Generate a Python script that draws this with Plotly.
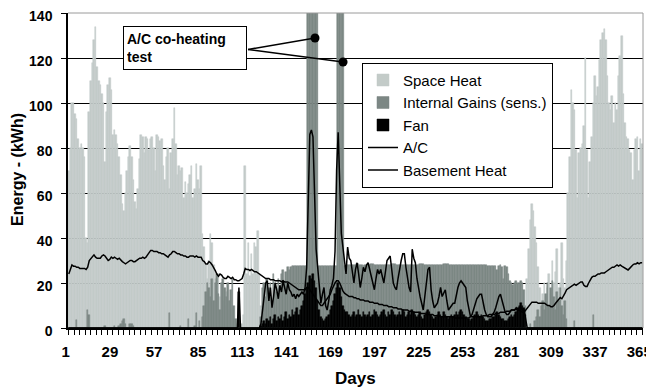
import plotly.graph_objects as go

DAYS = list(range(1, 366))
X_TICKS = [1, 29, 57, 85, 113, 141, 169, 197, 225, 253, 281, 309, 337, 365]
Y_TICKS = [0, 20, 40, 60, 80, 100, 120, 140]

SPACE_HEAT = [
    70, 80, 100, 100, 95, 93, 84, 80, 82, 80,        # 1-10
    76, 40, 38, 96, 110, 118, 128, 134, 116, 110,    # 11-20
    108, 104, 100, 74, 96, 108, 111, 106, 86, 88,    # 21-30
    86, 82, 76, 68, 55, 52, 60, 70, 76, 81,          # 31-40
    76, 66, 56, 53, 62, 75, 86, 85, 78, 85,          # 41-50
    84, 79, 84, 85, 80, 70, 86, 85, 83, 84,          # 51-60
    72, 66, 76, 80, 62, 78, 84, 98, 82, 68,          # 61-70
    72, 70, 71, 58, 65, 60, 64, 68, 72, 58,          # 71-80
    62, 73, 66, 62, 72, 42, 36, 28, 22, 30,          # 81-90
    42, 38, 28, 22, 16, 24, 14, 20, 12, 10,          # 91-100
    16, 8, 12, 6, 9, 4, 2, 0, 0, 0,                  # 101-110
    2, 6, 72, 24, 38, 23, 33, 24, 38, 36,            # 111-120
    43, 24, 10, 0, 0, 0, 0, 0, 0, 0,                 # 121-130
    0, 0, 0, 0, 0, 0, 0, 0, 0, 0,                    # 131-140
    0, 0, 0, 0, 0, 0, 0, 0, 0, 0,                    # 141-150
    0, 0, 0, 0, 0, 0, 0, 0, 0, 0,                    # 151-160
    0, 0, 0, 0, 0, 0, 0, 0, 0, 0,                    # 161-170
    0, 0, 0, 0, 0, 0, 0, 0, 0, 0,                    # 171-180
    0, 0, 0, 0, 0, 0, 0, 0, 0, 0,                    # 181-190
    0, 0, 0, 0, 0, 0, 0, 0, 0, 0,                    # 191-200
    0, 0, 0, 0, 0, 0, 0, 0, 0, 0,                    # 201-210
    0, 0, 0, 0, 0, 0, 0, 0, 0, 0,                    # 211-220
    0, 0, 0, 0, 0, 0, 0, 0, 0, 0,                    # 221-230
    0, 0, 0, 0, 0, 0, 0, 0, 0, 0,                    # 231-240
    0, 0, 0, 0, 0, 0, 0, 0, 0, 0,                    # 241-250
    0, 0, 0, 0, 0, 0, 0, 0, 0, 0,                    # 251-260
    0, 0, 0, 0, 0, 0, 0, 0, 0, 0,                    # 261-270
    0, 0, 0, 0, 0, 0, 0, 0, 0, 0,                    # 271-280
    0, 0, 0, 0, 0, 0, 0, 0, 0, 0,                    # 281-290
    0, 22, 35, 48, 55, 52, 45, 38, 27, 18,           # 291-300
    12, 15, 20, 14, 18, 24, 15, 30, 20, 25,          # 301-310
    35, 18, 20, 38, 22, 18, 30, 60, 76, 106,         # 311-320
    100, 97, 79, 58, 78, 80, 82, 90, 120, 79,        # 321-330
    58, 74, 85, 100, 112, 103, 107, 119, 128, 131,   # 331-340
    133, 128, 112, 100, 97, 103, 91, 100, 97, 112,   # 341-350
    121, 130, 104, 91, 85, 84, 79, 78, 66, 79,       # 351-360
    84, 85, 70, 84, 82,                              # 361-365
]

INTERNAL_GAINS = [
    0, 0, 0, 0, 0, 3.5, 0, 0, 0, 0,                  # 1-10
    0, 0, 8, 6, 0, 0, 0, 0, 0, 0,                    # 11-20
    0, 0, 0, 1, 0, 0, 0, 0, 0, 1,                    # 21-30
    0, 0, 1, 2, 3, 4, 2, 0, 0, 2,                    # 31-40
    2, 1, 0, 0, 0, 0, 0, 0, 0, 0,                    # 41-50
    0, 0, 0, 0, 0, 0, 0, 0, 0, 0,                    # 51-60
    0, 0, 0, 0, 6.5, 0, 0, 0, 0, 0,                  # 61-70
    0, 1, 0, 0, 0, 0, 4, 0, 0, 0,                    # 71-80
    1, 6.5, 0, 3, 0, 5, 10, 16, 20, 18,              # 81-90
    14, 22, 12, 20, 24, 15, 8, 20, 22, 18,           # 91-100
    14, 20, 12, 17, 22, 10, 4, 0, 0, 2,              # 101-110
    0, 0, 0, 0, 0, 0, 0, 0, 0, 0,                    # 111-120
    0, 0, 5, 18, 20, 14, 22, 18, 20, 12,             # 121-130
    24, 20, 16, 22, 18, 24, 26, 20, 25, 27,          # 131-140
    26, 27, 27.5, 27.5, 27.5, 27.5, 27.5, 27.5, 27.5, 27.5,   # 141-150
    27.5, 27.5, 160, 160, 160, 160, 160, 160, 160, 27.5,     # 151-160
    27.5, 27.5, 27.5, 27.5, 27.5, 27.5, 27.5, 27.5, 27.5, 27.5,  # 161-170
    27.5, 160, 160, 160, 160, 27.5, 27.5, 28, 28, 28,        # 171-180
    28, 28, 28, 28.5, 28.5, 28, 28, 27.5, 28, 28,    # 181-190
    28, 28, 28.5, 28.5, 28, 28, 28, 28, 28, 28,      # 191-200
    28, 28, 28, 28, 28, 28.5, 28.5, 28.5, 28, 28,    # 201-210
    28, 28, 28, 28, 28, 28, 28, 28, 28, 28,          # 211-220
    28, 28, 28, 28.5, 28.5, 28.5, 28, 28, 28, 28,    # 221-230
    28, 28, 28, 28, 28, 28, 28, 28, 28.5, 28.5,      # 231-240
    28.5, 28.5, 28, 28, 28, 28, 28, 28, 28, 28,      # 241-250
    28, 28, 28, 28, 28, 28, 28, 28, 28, 28,          # 251-260
    28, 28, 28, 28, 28, 28, 27.5, 27.5, 27.5, 27.5,  # 261-270
    27.5, 27.5, 26, 27.5, 28, 27, 22, 27.5, 27, 24,  # 271-280
    21, 20, 19, 20, 21, 20, 20, 21, 20, 17,          # 281-290
    10, 0, 0, 2, 0, 0, 3, 5, 8, 5,                   # 291-300
    10, 12, 8, 15, 20, 10, 18, 21, 14, 8,            # 301-310
    16, 12, 18, 10, 6, 12, 4, 0, 0, 0,               # 311-320
    0, 3, 0, 0, 0, 0, 0, 0, 0, 0,                    # 321-330
    0, 0, 0, 6, 0, 0, 0, 0, 0, 0,                    # 331-340
    0, 0, 0, 0, 0, 0, 0, 0, 0, 0,                    # 341-350
    0, 0, 0, 0, 0, 0, 0, 0, 0, 0,                    # 351-360
    0, 0, 0, 0, 0,                                   # 361-365
]

FAN = [
    0, 0, 0, 0, 0, 0, 0, 0, 0, 0,                    # 1-10
    0, 0, 0, 0, 0, 0, 0, 0, 0, 0,                    # 11-20
    0, 0, 0, 0, 0, 0, 0, 0, 0, 0,                    # 21-30
    0, 0, 0, 0, 0, 0, 0, 0, 0, 0,                    # 31-40
    0, 0, 0, 0, 0, 0, 0, 0, 0, 0,                    # 41-50
    0, 0, 0, 0, 0, 0, 0, 0, 0, 0,                    # 51-60
    0, 0, 0, 0, 0, 0, 0, 0, 0, 0,                    # 61-70
    0, 0, 0, 0, 0, 0, 0, 0, 0, 0,                    # 71-80
    0, 0, 0, 0, 0, 0, 0, 0, 0, 0,                    # 81-90
    0, 0, 0, 0, 0, 0, 0, 0, 0, 0,                    # 91-100
    0, 0, 0, 0, 0, 0, 0, 0, 16, 0,                   # 101-110
    0, 0, 0, 0, 0, 0, 0, 0, 0, 0,                    # 111-120
    0, 0, 1, 2, 3, 2, 4, 3, 5, 2,                    # 121-130
    4, 6, 3, 5, 4, 6, 3, 5, 7, 4,                    # 131-140
    6, 5, 8, 6, 7, 9, 6, 8, 10, 12,                  # 141-150
    15, 18, 20, 23, 22, 24, 21, 18, 12, 8,           # 151-160
    5, 4, 3, 4, 5, 6, 8, 10, 12, 15,                 # 161-170
    18, 20, 18, 14, 10, 8, 7, 7, 6, 5,               # 171-180
    6, 7, 5, 6, 8, 6, 5, 7, 6, 5,                    # 181-190
    6, 7, 5, 6, 8, 7, 6, 5, 6, 7,                    # 191-200
    8, 6, 5, 7, 6, 8, 7, 6, 5, 6,                    # 201-210
    7, 6, 8, 7, 5, 6, 7, 6, 8, 7,                    # 211-220
    6, 5, 6, 7, 5, 4, 6, 7, 8, 7,                    # 221-230
    6, 5, 4, 5, 6, 7, 6, 5, 7, 6,                    # 231-240
    5, 4, 5, 6, 5, 6, 7, 6, 7, 8,                    # 241-250
    7, 6, 5, 4, 4, 3, 4, 5, 6, 7,                    # 251-260
    6, 5, 6, 5, 4, 3, 3, 4, 4, 5,                    # 261-270
    5, 6, 7, 6, 5, 4, 4, 3, 3, 4,                    # 271-280
    5, 6, 5, 6, 7, 9, 10, 11, 10, 9,                 # 281-290
    6, 0, 0, 0, 0, 0, 0, 0, 0, 0,                    # 291-300
    0, 0, 0, 0, 0, 0, 0, 0, 0, 0,                    # 301-310
    0, 0, 0, 0, 0, 0, 0, 0, 0, 0,                    # 311-320
    0, 0, 0, 0, 0, 0, 0, 0, 0, 0,                    # 321-330
    0, 0, 0, 0, 0, 0, 0, 0, 0, 0,                    # 331-340
    0, 0, 0, 0, 0, 0, 0, 0, 0, 0,                    # 341-350
    0, 0, 0, 0, 0, 0, 0, 0, 0, 0,                    # 351-360
    0, 0, 0, 0, 0,                                   # 361-365
]

AC = [
    0, 0, 0, 0, 0, 0, 0, 0, 0, 0,                    # 1-10
    0, 0, 0, 0, 0, 0, 0, 0, 0, 0,                    # 11-20
    0, 0, 0, 0, 0, 0, 0, 0, 0, 0,                    # 21-30
    0, 0, 0, 0, 0, 0, 0, 0, 0, 0,                    # 31-40
    0, 0, 0, 0, 0, 0, 0, 0, 0, 0,                    # 41-50
    0, 0, 0, 0, 0, 0, 0, 0, 0, 0,                    # 51-60
    0, 0, 0, 0, 0, 0, 0, 0, 0, 0,                    # 61-70
    0, 0, 0, 0, 0, 0, 0, 0, 0, 0,                    # 71-80
    0, 0, 0, 0, 0, 0, 0, 0, 0, 0,                    # 81-90
    0, 0, 0, 0, 0, 0, 0, 0, 0, 0,                    # 91-100
    0, 0, 0, 0, 0, 0, 0, 0, 18, 0,                   # 101-110
    0, 0, 0, 0, 0, 0, 0, 0, 0, 0,                    # 111-120
    0, 0, 2, 8, 14, 20, 21, 12, 18, 9,               # 121-130
    14, 20, 17, 13, 19, 16, 21, 18, 15, 20,          # 131-140
    17, 16, 14, 15, 13, 15, 14, 15, 16, 15,          # 141-150
    18, 27, 55, 86, 88, 85, 60, 35, 27, 20,          # 151-160
    11, 15, 18, 10, 8, 12, 17, 19, 22, 34,           # 161-170
    70, 87, 62, 42, 36, 30, 24, 36, 31, 30,          # 171-180
    24, 20, 26, 29, 24, 18, 22, 27, 25, 28,          # 181-190
    29, 26, 24, 20, 17, 22, 26, 24, 26, 23,          # 191-200
    20, 25, 30, 31, 32, 26, 20, 18, 17, 22,          # 201-210
    27, 30, 33, 33, 27, 22, 18, 16, 35, 31,          # 211-220
    29, 22, 17, 14, 11, 8, 14, 20, 26, 27,           # 221-230
    17, 12, 9, 10, 11, 14, 18, 14, 16, 17,           # 231-240
    12, 8, 9, 10, 11, 11, 15, 18, 20, 21,            # 241-250
    20, 19, 18, 12, 9, 5, 6, 8, 10, 13,              # 251-260
    14, 15, 15, 11, 8, 6, 5, 5, 5, 6,                # 261-270
    7, 9, 12, 14, 15, 12, 9, 7, 6, 6,                # 271-280
    7, 8, 8, 8, 9, 8, 9, 9, 8, 8,                    # 281-290
    4, 0, 0, 0, 0, 0, 0, 0, 0, 0,                    # 291-300
    0, 0, 0, 0, 0, 0, 0, 0, 0, 0,                    # 301-310
    0, 0, 0, 0, 0, 0, 0, 0, 0, 0,                    # 311-320
    0, 0, 0, 0, 0, 0, 0, 0, 0, 0,                    # 321-330
    0, 0, 0, 0, 0, 0, 0, 0, 0, 0,                    # 331-340
    0, 0, 0, 0, 0, 0, 0, 0, 0, 0,                    # 341-350
    0, 0, 0, 0, 0, 0, 0, 0, 0, 0,                    # 351-360
    0, 0, 0, 0, 0,                                   # 361-365
]

BASEMENT_HEAT = [
    24, 26, 28, 27.5, 27.5, 27, 27, 26.5, 26.5, 26.5,          # 1-10
    26.5, 26, 27, 30, 31, 32, 32.5, 31.5, 31, 31,              # 11-20
    31, 32, 32.5, 32, 31, 30, 30.5, 31.5, 31, 31.5,            # 21-30
    31, 30.5, 31, 30, 29.5, 29, 28.5, 29, 29.5, 30,            # 31-40
    30, 29.5, 29.5, 30, 30.5, 31, 31, 31.5, 31, 31.5,          # 41-50
    32.5, 33.5, 34.5, 34.5, 34, 34, 34, 33.5, 33.5, 33,        # 51-60
    33, 32.5, 32, 31.5, 32.5, 33, 34, 34, 33.5, 33,            # 61-70
    33, 32.5, 32.5, 32, 32, 31.5, 31.5, 32, 32, 32,            # 71-80
    31.5, 32, 31.5, 31.5, 31.5, 30, 29.5, 28.5, 28.5, 29.5,    # 81-90
    29, 28, 27, 25.5, 24, 23, 24, 23.5, 22.5, 22,              # 91-100
    22, 23, 22.5, 22, 22.5, 21.5, 21.5, 21, 21, 21.5,          # 101-110
    22, 24, 26.5, 26, 26, 25.5, 26, 25.5, 25, 25,              # 111-120
    24.5, 24, 23.5, 23, 22.5, 22, 22, 22, 21.5, 21.5,          # 121-130
    21.5, 21, 21, 21, 21, 20.5, 21, 20.5, 20.5, 20.5,          # 131-140
    20, 19.5, 19, 18.5, 18, 17.5, 17, 17, 17, 17,              # 141-150
    17, 18, 18, 17, 16, 15, 14, 13, 12, 11,                    # 151-160
    10, 10, 11, 12, 13, 14, 15, 17, 19, 20,                    # 161-170
    21, 21, 20, 18, 16.5, 15.5, 15, 14.5, 14, 14,              # 171-180
    14, 13.5, 13.5, 13, 13, 12.5, 12.5, 12.5, 12, 12,          # 181-190
    12, 11.5, 11.5, 11.5, 11, 11, 11, 10.5, 10.5, 10.5,        # 191-200
    10, 10, 10, 9.5, 9.5, 9.5, 9, 9, 9, 8.5,                   # 201-210
    8.5, 8.5, 8, 8, 8, 8, 7.5, 7.5, 7.5, 7,                    # 211-220
    7, 7, 7, 6.5, 6.5, 6.5, 6.5, 6, 6, 6,                      # 221-230
    6, 6, 5.5, 5.5, 5.5, 5.5, 5, 5, 5, 5,                      # 231-240
    5, 5, 5, 5, 5, 4.5, 4.5, 4.5, 4.5, 4.5,                    # 241-250
    4.5, 4.5, 4.5, 4.5, 4.5, 5, 5, 5, 5, 5,                    # 251-260
    5, 5, 5, 5.5, 5.5, 5.5, 5.5, 6, 6, 6,                      # 261-270
    6, 6.5, 6.5, 6.5, 7, 7, 7, 7, 7.5, 7.5,                    # 271-280
    7.5, 8, 8, 8, 8.5, 8, 8, 7.5, 7, 7,                        # 281-290
    8, 9, 10, 11, 11.5, 11.5, 11.5, 11.5, 11, 11,              # 291-300
    11, 11, 11, 10.5, 10, 10, 9.5, 9.5, 10, 11,                # 301-310
    12, 13, 13.5, 13, 14, 15.5, 17, 17.5, 18, 18.5,            # 311-320
    19, 19.5, 19, 19.5, 20, 20.5, 20.5, 19, 18.5, 18.5,        # 321-330
    20, 21.5, 22.5, 23, 23, 23.5, 24, 24, 24.5, 24.5,          # 331-340
    24.5, 25, 25.5, 26, 26.5, 27, 27, 27.5, 28, 27.5,          # 341-350
    28, 27.5, 27, 26.5, 26, 25.8, 26.5, 27.5, 28, 28.5,        # 351-360
    28.5, 29, 28.5, 29, 29,                                    # 361-365
]

# callout: "A/C co-heating test" markers (day, kWh) and the box anchor point
CALLOUT_DAYS = [157.3, 175.1]
CALLOUT_VALUES = [128.9, 118.2]
CALLOUT_ANCHOR = (114.8, 123.8)

for s in (SPACE_HEAT, INTERNAL_GAINS, FAN, AC, BASEMENT_HEAT):
    assert len(s) == 365, len(s)

LIGHT = "#c3cbc8"
DARK = "#7c8784"
FONT = "Liberation Sans, Arial, sans-serif"

fig = go.Figure()
fig.add_trace(go.Bar(x=DAYS, y=SPACE_HEAT, name="Space Heat",
                     marker=dict(color=LIGHT, line=dict(width=0.5, color=LIGHT))))
fig.add_trace(go.Bar(x=DAYS, y=INTERNAL_GAINS, name="Internal Gains (sens.)",
                     marker=dict(color=DARK, line=dict(width=0.5, color=DARK))))
fig.add_trace(go.Bar(x=DAYS, y=FAN, name="Fan",
                     marker=dict(color="black", line=dict(width=0.5, color="black"))))
fig.add_trace(go.Scatter(x=DAYS, y=AC, name="A/C", mode="lines",
                         line=dict(color="black", width=1.5)))
fig.add_trace(go.Scatter(x=DAYS, y=BASEMENT_HEAT, name="Basement Heat", mode="lines",
                         line=dict(color="black", width=1.5)))
fig.add_trace(go.Scatter(x=CALLOUT_DAYS, y=CALLOUT_VALUES, mode="markers",
                         marker=dict(color="black", size=9), showlegend=False,
                         hoverinfo="skip", cliponaxis=False))

for d, v in zip(CALLOUT_DAYS, CALLOUT_VALUES):
    fig.add_shape(type="line", xref="x", yref="y",
                  x0=CALLOUT_ANCHOR[0], y0=CALLOUT_ANCHOR[1], x1=d, y1=v,
                  line=dict(color="black", width=1.5), layer="above")

# plot-area border (top and right, gray)
fig.add_shape(type="line", xref="paper", yref="paper", x0=0, y0=1, x1=1, y1=1,
              line=dict(color="#9a9a9a", width=1), layer="above")
fig.add_shape(type="line", xref="paper", yref="paper", x0=1, y0=0, x1=1, y1=1,
              line=dict(color="#9a9a9a", width=1), layer="above")

fig.add_annotation(xref="paper", yref="paper", x=0.0957, y=0.9587,
                   xanchor="left", yanchor="top",
                   text="<b>A/C co-heating<br>test</b>", showarrow=False,
                   align="left", valign="middle", bordercolor="black", borderwidth=1,
                   bgcolor="white", borderpad=3, width=116, height=36,
                   font=dict(size=14, family=FONT, color="black"))

fig.add_annotation(xref="paper", yref="paper", x=-0.087, y=0.505,
                   text="<b>Energy - (kWh)</b>", textangle=-90, showarrow=False,
                   xanchor="center", yanchor="middle",
                   font=dict(size=16, family=FONT, color="black"))
fig.add_annotation(xref="paper", yref="paper", x=0.5, y=-0.159,
                   text="<b>Days</b>", showarrow=False,
                   xanchor="center", yanchor="middle",
                   font=dict(size=17, family=FONT, color="black"))

# the page body adds an 8px offset, so the figure is 8px smaller than the window
fig.update_layout(
    width=646, height=384,
    margin=dict(l=60, r=11, t=5, b=64, autoexpand=False),
    paper_bgcolor="white", plot_bgcolor="white",
    barmode="overlay", bargap=0,
    font=dict(family=FONT, color="black"),
    showlegend=True,
    legend=dict(x=0.5113, y=0.842, xanchor="left", yanchor="top",
                bgcolor="white", bordercolor="black", borderwidth=1,
                font=dict(size=15, family=FONT, color="black"),
                traceorder="normal"),
)
fig.update_xaxes(range=[0.5, 365.5], tickmode="array", tickvals=X_TICKS,
                 ticks="outside", ticklen=5, tickcolor="black",
                 showline=True, linecolor="black", linewidth=1.5,
                 showgrid=False, zeroline=False, automargin=False,
                 tickfont=dict(size=15, weight="bold", family=FONT, color="black"),
                 ticklabelstandoff=4, ticklabeloverflow="allow", ticklabelshift=-3,
                 minor=dict(tickmode="linear", tick0=1, dtick=3.5, ticks="outside",
                            ticklen=5, tickcolor="black", showgrid=False))
fig.update_yaxes(range=[0, 140], tickmode="array", tickvals=Y_TICKS,
                 ticks="outside", ticklen=5, tickcolor="black",
                 showline=True, linecolor="black", linewidth=1.5,
                 showgrid=True, gridcolor="black", gridwidth=1, zeroline=False,
                 automargin=False,
                 tickfont=dict(size=14, weight="bold", family=FONT, color="black"),
                 ticklabelstandoff=6, ticklabeloverflow="allow", ticklabelshift=3)

fig.write_html("out.html")
